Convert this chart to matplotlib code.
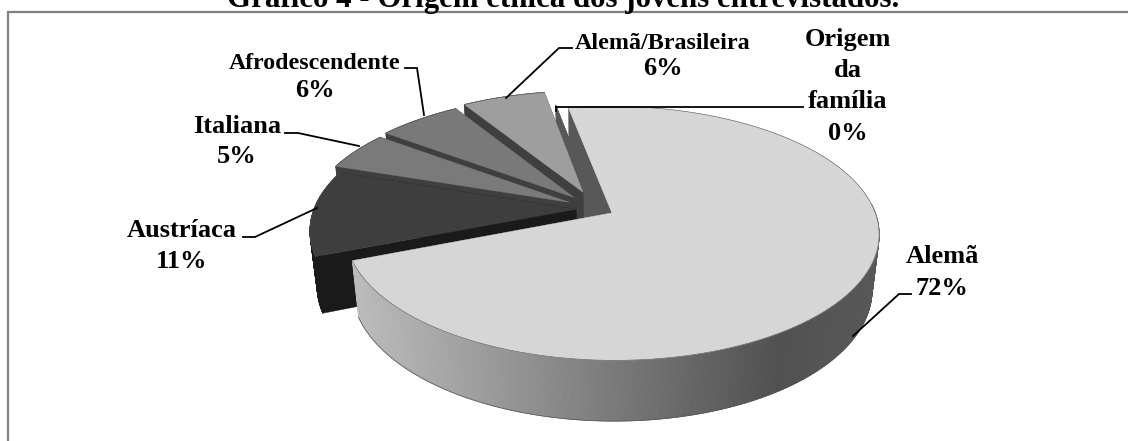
## exploded 3D pie of the ethnic origin of the interviewed young people
import numpy as np
import matplotlib
matplotlib.use("Agg")
import matplotlib.pyplot as plt
from matplotlib.collections import PolyCollection

plt.rcParams['font.family'] = ['Liberation Serif', 'DejaVu Serif']

# data
names = ["Alemã", "Austríaca", "Italiana", "Afrodescendente", "Alemã/Brasileira", "Origem da família"]
percent = [72, 11, 5, 6, 6, 0]
title = "Gráfico 4 - Origem étnica dos jovens entrevistados."

# how far each slice is pulled out of the pie (in radii)
explode = [0.065, 0.08, 0.12, 0.13, 0.15, 0.0]
top_colors = ["#d6d6d6", "#3e3e3e", "#7a7a7a", "#797979", "#9e9e9e", "#5a5a5a"]
wall_colors = ["#585858", "#1a1a1a", "#3f3f3f", "#3f3f3f", "#3f3f3f", "#585858"]

# pie placement on the canvas, pixels
CX, CY = 597, 209
RX, RY = 262, 122.5
PERSP = 0.16      # far side of the disc gets smaller
SHRINK = 0.025    # underside of the disc gets smaller
THICK = 56
START_ANGLE = -10.5


def project(u, v, depth=0.0):
	# disc coordinates (in radii) to canvas pixels
	w = 1 + PERSP*v + SHRINK*depth
	return CX + RX*u/w, CY + (-RY*v + THICK*depth)/w


def slice_geometry(i):
	start = START_ANGLE + sum(percent[:i])*3.6
	end = start + percent[i]*3.6
	mid = np.radians((start+end)/2)
	du, dv = explode[i]*np.sin(mid), explode[i]*np.cos(mid)
	t = np.radians(np.linspace(start, end, max(2, int(end-start)*2)))
	return du, dv, du+np.sin(t), dv+np.cos(t)


def radial_wall(ax, i, k):
	# flat cut face between the centre and the rim point k
	du, dv, u, v = slice_geometry(i)
	pts = [project(du, dv), project(u[k], v[k]), project(u[k], v[k], 1), project(du, dv, 1)]
	ax.fill(*zip(*pts), color=wall_colors[i], lw=0.3, zorder=1)


def outer_wall(ax, i, shade=None):
	du, dv, u, v = slice_geometry(i)
	if shade is not None:
		# the big slice only shows its wall on the near side
		keep = v < 0.05
		u, v = u[keep], v[keep]
	x0, y0 = project(u, v)
	x1, y1 = project(u, v, 1)
	quads = [[(x0[j], y0[j]), (x0[j+1], y0[j+1]), (x1[j+1], y1[j+1]), (x1[j], y1[j])] for j in range(len(u)-1)]
	if shade is None:
		colors = [wall_colors[i]]*len(quads)
	else:
		colors = [str(np.interp((x0[j]+x0[j+1])/2, shade[0], shade[1])/255) for j in range(len(quads))]
	ax.add_collection(PolyCollection(quads, facecolors=colors, edgecolors=colors, linewidths=0.6, zorder=1))
	if shade is not None:
		ax.plot(x1, y1, color="#555555", lw=0.5, zorder=1)


def top_face(ax, i):
	du, dv, u, v = slice_geometry(i)
	x, y = project(np.r_[du, u], np.r_[dv, v])
	ax.fill(x, y, color=top_colors[i], lw=0.3, zorder=1)
	ax.plot(*project(u, v), color="#555555", lw=0.4, zorder=1)


def draw_slice(ax, i):
	radial_wall(ax, i, 0)
	radial_wall(ax, i, -1)
	outer_wall(ax, i)
	top_face(ax, i)


fig = plt.figure(figsize=(11.28, 4.41), dpi=100)
ax = fig.add_axes([0, 0, 1, 1])
ax.set_xlim(0, 1128)
ax.set_ylim(441, 0)
ax.axis("off")

# chart frame, open at the bottom and right
ax.plot([8, 8, 1128], [441, 12, 12], color="#808080", lw=1.6, solid_joinstyle="miter")
ax.text(563, 7.5, title, fontsize=22.2, fontweight="bold", ha="center", va="baseline")

# back to front
radial_wall(ax, 0, 0)
for i in [5, 4, 3, 2, 1]:
	draw_slice(ax, i)
shade_x = [356, 480, 620, 780, 878]
shade_g = [0xbb, 0x9c, 0x78, 0x50, 0x58]
outer_wall(ax, 0, (shade_x, shade_g))
top_face(ax, 0)

# leader lines
leaders = [
	([911, 899, 853], [294, 294, 336]),
	([243, 255, 317], [237, 237, 208]),
	([285, 298, 359], [133, 133, 146]),
	([405, 417, 424], [68, 68, 115]),
	([572, 559, 506], [48, 48, 98]),
	([803, 556, 556], [107, 107, 111]),
]
for lx, ly in leaders:
	ax.plot(lx, ly, color="black", lw=1.3, solid_joinstyle="miter")

# labels: centre x, then a baseline for every line of text
label_x = [942, 182, 237, 315, 663, 848]
label_base = [[263, 295], [237, 268], [133, 163], [69, 97], [49, 75], [46, 77, 108, 140]]
name_size = [19, 19, 19, 17.2, 17.4, 19]
for i in range(len(names)):
	name_lines = [names[i]] if i != 5 else ["Origem", "da", "família"]
	lines = name_lines + [str(percent[i]) + "%"]
	for j, line in enumerate(lines):
		size = name_size[i] if j < len(name_lines) else 19
		ax.text(label_x[i], label_base[i][j], line, fontsize=size, fontweight="bold", ha="center", va="baseline")

fig.savefig("out.png", dpi=100, facecolor="white")
